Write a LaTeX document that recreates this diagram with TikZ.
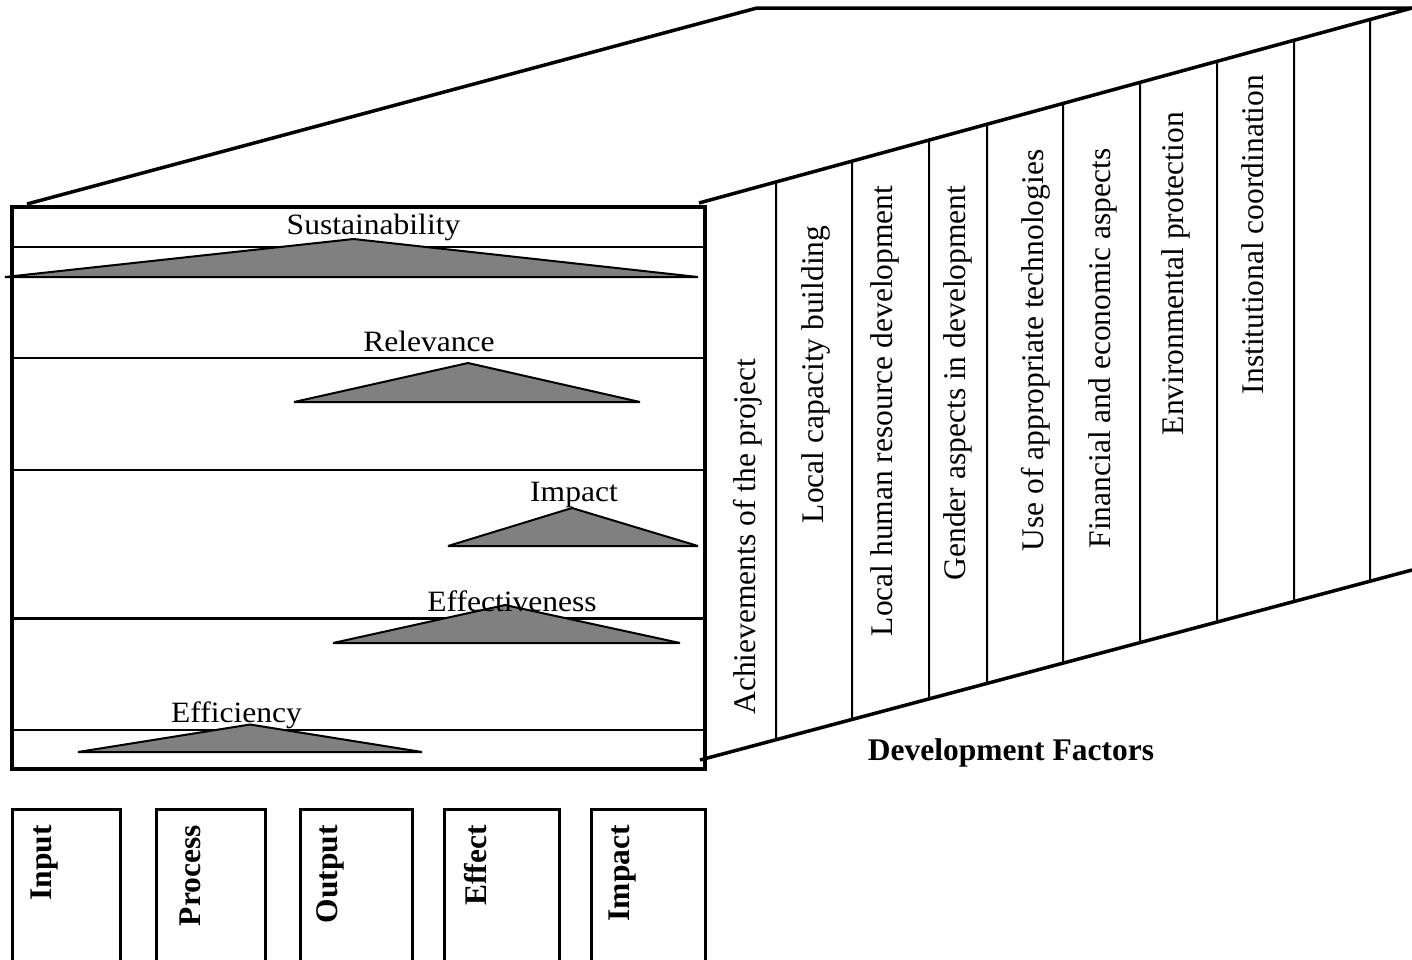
\documentclass[tikz,border=0pt]{standalone}
\usepackage{fontspec}
\setmainfont{Liberation Serif}
\usetikzlibrary{calc}
\definecolor{triGray}{RGB}{128,128,128}
\begin{document}
\begin{tikzpicture}[x=1pt,y=-1pt,
  frame/.style={line width=3.5pt},
  band/.style={line width=2.5pt},
  tri/.style={draw=black,fill=triGray,line width=2pt,line join=bevel},
  colline/.style={line width=2pt},
  persp/.style={line width=3.5pt},
  lab/.style={font=\fontsize{29.5}{32}\selectfont, anchor=base, inner sep=0pt},
  vlab/.style={font=\fontsize{31.5}{34}\selectfont, rotate=90, anchor=base, inner sep=0pt},
  blab/.style={font=\fontsize{31.5}{34}\selectfont\bfseries, rotate=90, anchor=base east, inner sep=0pt},
  stagebox/.style={line width=3pt}
]
\useasboundingbox[fill=white] (0,0) rectangle (1412,959);

% perspective frame
\coordinate (PL) at (27,204);
\coordinate (PT) at (757,8);
\coordinate (PR) at (1412,8);
\coordinate (TL) at (699,203);
\coordinate (TR) at (1412,8);
\coordinate (BL) at (700,760);
\coordinate (BR) at (1412,570);
\draw[persp] (PL) -- (PT) -- (PR);
\draw[persp] (TL) -- (TR);
\draw[persp] (BL) -- (BR);

% development factor columns
\foreach \cx in {776,852,929,987,1063,1140,1217,1294,1370}
  \draw[colline] (intersection of \cx,0--\cx,100 and TL--TR) -- (intersection of \cx,0--\cx,100 and BL--BR);

\node[vlab] (f1) at (755,536.6) {Achievements of the project};
\node[vlab] (f2) at (823.5,374.3) {Local capacity building};
\node[vlab] (f3) at (892.4,411) {Local human resource development};
\node[vlab] (f4) at (965,383) {Gender aspects in development};
\node[vlab] (f5) at (1043.8,350.5) {Use of appropriate technologies};
\node[vlab] (f6) at (1110.8,348.4) {Financial and economic aspects};
\node[vlab] (f7) at (1183.6,273.6) {Environmental protection};
\node[vlab] (f8) at (1263,234.5) {Institutional coordination};

\node[font=\fontsize{31.5}{34}\selectfont\bfseries, anchor=base, inner sep=0pt] (df) at (1011,760) {Development Factors};

% main box
\draw[band] (12,247) -- (705,247);
\draw[band] (12,358) -- (705,358);
\draw[band] (12,470) -- (705,470);
\draw[band] (12,618.5) -- (705,618.5);
\draw[band] (12,730) -- (705,730);

% triangles
\draw[tri] (5,277) -- (353.5,239) -- (698,277) -- cycle;
\draw[tri] (294,402) -- (468,363) -- (640,402) -- cycle;
\draw[tri] (448,546) -- (572,508) -- (698,546) -- cycle;
\draw[tri] (333,643) -- (505,605) -- (680,643) -- cycle;
\draw[tri] (78,752) -- (250,724.5) -- (422,752) -- cycle;

\draw[frame] (12,207) rectangle (705,769);

\node[lab] (s) at (373.5,234.5) {\scalebox{1.07}[1]{Sustainability}};
\node[lab] (r) at (429,351) {\scalebox{1.07}[1]{Relevance}};
\node[lab] (i) at (574,501) {\scalebox{1.07}[1]{Impact}};
\node[lab] (e) at (512,611) {\scalebox{1.07}[1]{Effectiveness}};
\node[lab] (y) at (236.5,722) {\scalebox{1.07}[1]{Efficiency}};

% stage boxes
\draw[stagebox] (12,970) -- (12,809) -- (120,809) -- (120,970);
\draw[stagebox] (156,970) -- (156,809) -- (265,809) -- (265,970);
\draw[stagebox] (300,970) -- (300,809) -- (412,809) -- (412,970);
\draw[stagebox] (444,970) -- (444,809) -- (559,809) -- (559,970);
\draw[stagebox] (591,970) -- (591,809) -- (705,809) -- (705,970);

\node[blab] (b1) at (51,825) {Input};
\node[blab] (b2) at (200,825) {Process};
\node[blab] (b3) at (337,825) {Output};
\node[blab] (b4) at (486.7,825) {Effect};
\node[blab] (b5) at (629,825) {Impact};
\end{tikzpicture}
\end{document}
